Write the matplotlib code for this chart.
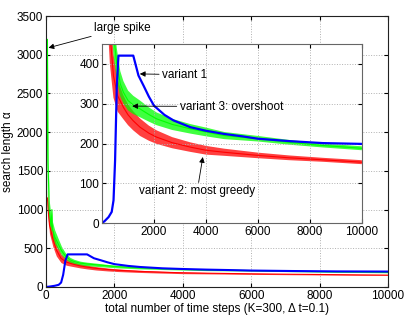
import matplotlib
matplotlib.use('Agg')
import matplotlib.pyplot as plt

plt.rcParams['font.family'] = ['Liberation Sans', 'DejaVu Sans']
plt.rcParams['font.size'] = 8.5

# variant 1 (blue)
t_v1 = [0, 100, 250, 370, 440, 500, 565, 630, 1200, 1400, 1600, 1800, 2000, 2400,
        2750, 3400, 4000, 4700, 5400, 6000, 7200, 8500, 10000]
v1 = [0, 5, 15, 28, 57, 157, 341, 421, 421, 371, 345, 318, 295, 272,
      258, 241, 232, 224, 218, 212, 206, 201, 199]

# variant 3: overshoot (green)
t_v3 = [0, 40, 60, 90, 150, 170, 190, 250, 350, 450, 565, 700, 820, 1000, 1200,
        1460, 1800, 2100, 2700, 3390, 4000, 4700, 6000, 7200, 8500, 10000]
v3 = [0, 3200, 1600, 1000, 780, 1000, 740, 650, 560, 470, 400, 350, 329, 308, 297,
      287, 273, 262, 248, 237, 229, 220, 212, 203, 195, 188]
spread3 = [0, 0, 150, 130, 110, 0, 100, 90, 70, 55, 40, 32, 28, 25, 23,
           21, 18, 16, 14, 12, 11, 9, 7, 6, 5, 5]

# variant 2: most greedy (red)
t_v2 = [40, 60, 100, 200, 300, 437, 600, 820, 1000, 1200, 1460, 1800, 2100, 2700,
        3390, 4000, 4700, 6000, 7200, 8500, 10000]
v2 = [1150, 1000, 800, 620, 480, 370, 320, 291, 272, 257, 241, 226, 216, 202,
      191, 183, 178, 170, 164, 159, 153]
spread2 = [100, 110, 110, 100, 80, 55, 40, 30, 26, 24, 22, 19, 17, 14,
           12, 11, 9, 7, 6, 5, 5]


def draw(ax, lw_blue):
    lo3 = [a - b for a, b in zip(v3, spread3)]
    hi3 = [a + b for a, b in zip(v3, spread3)]
    lo2 = [a - b for a, b in zip(v2, spread2)]
    hi2 = [a + b for a, b in zip(v2, spread2)]
    ax.fill_between(t_v2, lo2, hi2, color='#ff0000', alpha=0.75, lw=0)
    ax.plot(t_v2, v2, color='#ff0000', lw=0.8)
    ax.fill_between(t_v3, lo3, hi3, color='#00ff00', alpha=0.75, lw=0)
    ax.plot(t_v3, v3, color='#00ff00', lw=0.8)
    ax.plot(t_v1, v1, color='#0000ff', lw=lw_blue)


def style(ax, edge):
    ax.grid(True, linestyle=':', color='#b0b0b0', lw=0.7)
    ax.tick_params(direction='in', length=3, top=True, right=True, pad=2)
    for s in ax.spines.values():
        s.set_color(edge)
        s.set_linewidth(0.8)


fig = plt.figure(figsize=(4.15, 3.15), dpi=100)

ax = fig.add_axes([0.111, 0.089, 0.824, 0.860])
draw(ax, 1.5)
ax.set_xlim(0, 10000)
ax.set_ylim(0, 3500)
ax.set_xticks(range(0, 10001, 2000))
ax.set_yticks(range(0, 3501, 500))
style(ax, '#222222')
ax.set_xlabel('total number of time steps (K=300, Δ t=0.1)', labelpad=1)
ax.set_ylabel('search length α', labelpad=2)
ax.annotate('large spike', xy=(70, 3090), xytext=(1400, 3345),
            va='center', ha='left',
            arrowprops=dict(arrowstyle='-|>', color='black', lw=0.6,
                            mutation_scale=8, shrinkA=0, shrinkB=0))

ins = fig.add_axes([0.246, 0.292, 0.626, 0.568])
draw(ins, 1.6)
ins.set_xlim(0, 10000)
ins.set_ylim(0, 450)
ins.set_xticks(range(2000, 10001, 2000))
ins.set_yticks(range(0, 401, 100))
style(ins, '#666666')

arrow = dict(arrowstyle='-|>', color='black', lw=0.6, mutation_scale=8,
             shrinkA=0, shrinkB=0)
ins.annotate('variant 1', xy=(1451, 375), xytext=(2300, 373),
             va='center', ha='left', arrowprops=arrow)
ins.annotate('variant 3: overshoot', xy=(1160, 294), xytext=(2980, 293),
             va='center', ha='left', arrowprops=arrow)
ins.annotate('variant 2: most greedy', xy=(3877, 166), xytext=(3660, 80),
             va='center', ha='center', arrowprops=arrow)

fig.savefig('out.png', dpi=100)
